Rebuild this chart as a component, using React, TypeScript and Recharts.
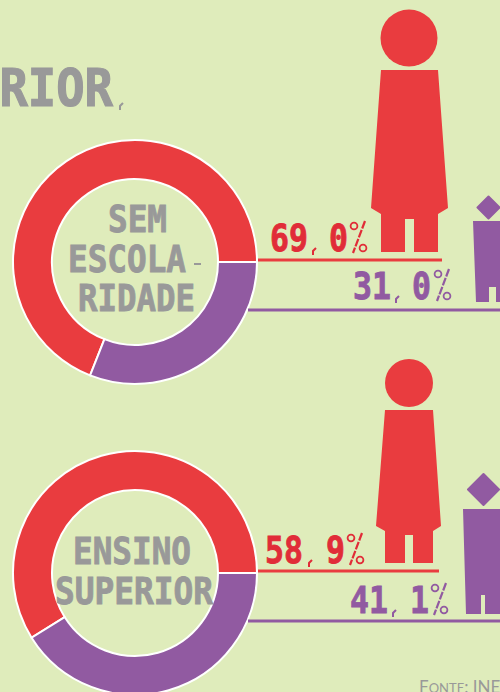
import { Pie, PieChart, Cell } from 'recharts'

const CATEGORIES = ['Mulheres', 'Homens']
const SEM_ESCOLARIDADE = [69.0, 31.0]
const ENSINO_SUPERIOR = [58.9, 41.1]

const BG = '#dfecbb'
const RED = '#e93c3f'
const RED_TEXT = '#e12c38'
const PURPLE = '#915aa1'
const GRAY = '#999999'
const MONO = '"DejaVu Sans Mono", monospace'

const semData = CATEGORIES.map((name, i) => ({ name, value: SEM_ESCOLARIDADE[i] }))
const superiorData = CATEGORIES.map((name, i) => ({ name, value: ENSINO_SUPERIOR[i] }))

function Word({ x, y, w, size, fill, children, bold = 0.9 }: any) {
  return (
    <text
      x={x}
      y={y}
      textLength={w}
      lengthAdjust="spacingAndGlyphs"
      fontFamily={MONO}
      fontWeight={700}
      fontSize={size}
      fill={fill}
      stroke={fill}
      strokeWidth={bold}
    >
      {children}
    </text>
  )
}

function Tiny({ x, y, fill }: any) {
  return <path d={`M${x + 4} ${y} L${x + 1} ${y + 3} L${x + 1} ${y + 7}`} stroke={fill} strokeWidth={2} fill="none" />
}

function Percent({ x, y, fill }: any) {
  return (
    <g stroke={fill} strokeWidth={1.8} fill="none">
      <circle cx={x + 4} cy={y - 25} r={3.4} />
      <circle cx={x + 13} cy={y - 3} r={3.4} />
      <line x1={x + 15} y1={y - 30} x2={x + 3} y2={y + 2} strokeDasharray="8 1.5" strokeWidth={2.2} />
    </g>
  )
}

function Overlay() {
  return (
    <svg width={500} height={692} style={{ position: 'absolute', left: 0, top: 0 }}>
      {/* titulo */}
      <Word x={-29} y={106} w={142} size={51} fill={GRAY} bold={1.2}>ERIOR</Word>
      <Tiny x={119} y={103} fill={GRAY} />

      {/* rotulos das roscas */}
      <Word x={108} y={232} w={59} size={37} fill={GRAY}>SEM</Word>
      <Word x={68} y={272} w={118} size={37} fill={GRAY}>ESCOLA</Word>
      <rect x={194} y={263} width={7} height={2} fill={GRAY} />
      <Word x={78} y={311} w={117} size={37} fill={GRAY}>RIDADE</Word>
      <Word x={73} y={564} w={118} size={37} fill={GRAY}>ENSINO</Word>
      <Word x={55} y={604} w={158} size={37} fill={GRAY}>SUPERIOR</Word>

      {/* valores */}
      <Word x={270} y={251} w={38} size={38} fill={RED_TEXT}>69</Word>
      <Tiny x={312} y={248} fill={RED_TEXT} />
      <Word x={329} y={251} w={19} size={38} fill={RED_TEXT}>0</Word>
      <Percent x={350} y={251} fill={RED_TEXT} />
      <rect x={258} y={258.5} width={184} height={3} fill={RED} />

      <Word x={353} y={299} w={38} size={38} fill={PURPLE}>31</Word>
      <Tiny x={395} y={296} fill={PURPLE} />
      <Word x={412} y={299} w={19} size={38} fill={PURPLE}>0</Word>
      <Percent x={434} y={299} fill={PURPLE} />
      <rect x={248} y={308.5} width={252} height={3} fill={PURPLE} />

      <Word x={265} y={563} w={38} size={38} fill={RED_TEXT}>58</Word>
      <Tiny x={308} y={560} fill={RED_TEXT} />
      <Word x={326} y={563} w={19} size={38} fill={RED_TEXT}>9</Word>
      <Percent x={347} y={563} fill={RED_TEXT} />
      <rect x={258} y={569.5} width={181} height={3} fill={RED} />

      <Word x={350} y={613} w={38} size={38} fill={PURPLE}>41</Word>
      <Tiny x={392} y={610} fill={PURPLE} />
      <Word x={410} y={613} w={19} size={38} fill={PURPLE}>1</Word>
      <Percent x={431} y={613} fill={PURPLE} />
      <rect x={248} y={619.5} width={252} height={3} fill={PURPLE} />

      {/* figuras */}
      <circle cx={409} cy={38} r={28.5} fill={RED} />
      <path d="M381 70 L438 70 L448 208 L438 214 L438 252 L414 252 L414 219 L405 219 L405 252 L381 252 L381 214 L371 208 Z" fill={RED} />
      <path d="M488.5 196.5 L499.5 207.5 L488.5 218.5 L477.5 207.5 Z" fill={PURPLE} stroke={PURPLE} strokeWidth={2} strokeLinejoin="round" />
      <path d="M473 221 L512 221 L509 302 L496 302 L496 287 L489 287 L489 302 L476 302 Z" fill={PURPLE} />

      <circle cx={409} cy={383} r={24} fill={RED} />
      <path d="M385 410 L433 410 L441 526 L433 531 L433 563 L413 563 L413 535 L405 535 L405 563 L385 563 L385 531 L376 526 Z" fill={RED} />
      <path d="M483.5 474 L499 489.5 L483.5 505 L468 489.5 Z" fill={PURPLE} stroke={PURPLE} strokeWidth={2} strokeLinejoin="round" />
      <path d="M463 509 L505 509 L502 614 L485 614 L485 595 L481 595 L481 614 L466 614 Z" fill={PURPLE} />

      <text x={419} y={693} fontFamily="Lato" fontSize={17} fill={GRAY}>
        F<tspan fontSize={13}>ONTE</tspan>: INEP
      </text>
    </svg>
  )
}

export default function App() {
  return (
    <div style={{ position: 'absolute', left: 0, top: 0, width: 500, height: 692, overflow: 'hidden', background: BG }}>
      <PieChart width={500} height={692} margin={{ top: 0, right: 0, bottom: 0, left: 0 }}>
        <Pie
          data={semData}
          dataKey="value"
          cx={135}
          cy={262}
          innerRadius={83}
          outerRadius={122}
          startAngle={0}
          endAngle={360}
          stroke="#ffffff"
          strokeWidth={2}
          isAnimationActive={false}
        >
          <Cell fill={RED} />
          <Cell fill={PURPLE} />
        </Pie>
        <Pie
          data={superiorData}
          dataKey="value"
          cx={135}
          cy={573}
          innerRadius={83}
          outerRadius={122}
          startAngle={0}
          endAngle={360}
          stroke="#ffffff"
          strokeWidth={2}
          isAnimationActive={false}
        >
          <Cell fill={RED} />
          <Cell fill={PURPLE} />
        </Pie>
      </PieChart>
      <Overlay />
    </div>
  )
}
